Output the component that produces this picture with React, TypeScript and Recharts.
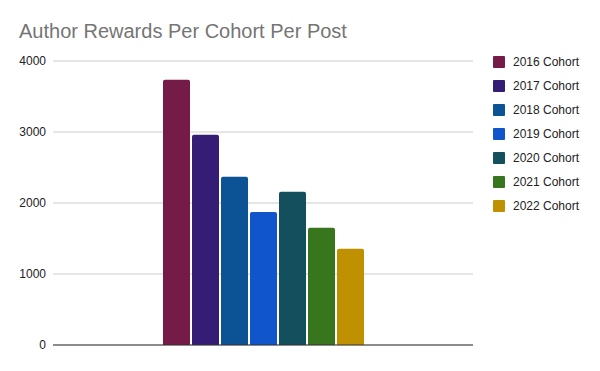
import React from "react";
import { BarChart, Bar, XAxis, YAxis, CartesianGrid, ReferenceLine } from "recharts";

const cohorts = ["2016 Cohort", "2017 Cohort", "2018 Cohort", "2019 Cohort", "2020 Cohort", "2021 Cohort", "2022 Cohort"];
const rewards = [3735, 2960, 2368, 1873, 2157, 1650, 1355];
const colors = ["#741b47", "#351c75", "#0b5394", "#1155cc", "#134f5c", "#38761d", "#bf9000"];
const yTicks = [0, 1000, 2000, 3000, 4000];

const row: Record<string, number | string> = { name: "Author Rewards" };
cohorts.forEach((c, i) => {
  row[c] = rewards[i];
});
const data = [row];

const FONT = "'Liberation Sans', Arial, sans-serif";

export default function App() {
  return (
    <div style={{ position: "absolute", left: 0, top: 0, width: 600, height: 371, background: "#fff" }}>
      <div
        style={{
          position: "absolute",
          left: 19,
          top: 19,
          fontFamily: FONT,
          fontSize: 20,
          color: "#757575",
          whiteSpace: "nowrap",
          lineHeight: "24px",
        }}
      >
        Author Rewards Per Cohort Per Post
      </div>
      <div style={{ position: "absolute", left: 493, top: 50, fontFamily: FONT }}>
        {cohorts.map((c, i) => (
          <div key={c} style={{ display: "flex", alignItems: "center", height: 24 }}>
            <div style={{ width: 12, height: 12, background: colors[i], borderRadius: 1, marginRight: 8 }} />
            <span style={{ fontSize: 12, color: "#222" }}>{c}</span>
          </div>
        ))}
      </div>
      <BarChart
        width={600}
        height={371}
        data={data}
        margin={{ top: 61, right: 127, bottom: 26, left: 0 }}
        barGap={2}
      >
        <CartesianGrid horizontal vertical={false} stroke="#cccccc" />
        <XAxis dataKey="name" hide />
        <YAxis
          domain={[0, 4000]}
          ticks={yTicks}
          width={53}
          axisLine={false}
          tickLine={false}
          tickSize={0}
          tickMargin={7}
          tick={{ fill: "#222", fontSize: 12, fontFamily: FONT }}
        />
        <ReferenceLine y={0} stroke="#333333" strokeWidth={1} />
        {cohorts.map((c, i) => (
          <Bar key={c} dataKey={c} fill={colors[i]} barSize={27} radius={[2, 2, 0, 0]} isAnimationActive={false} />
        ))}
      </BarChart>
    </div>
  );
}
